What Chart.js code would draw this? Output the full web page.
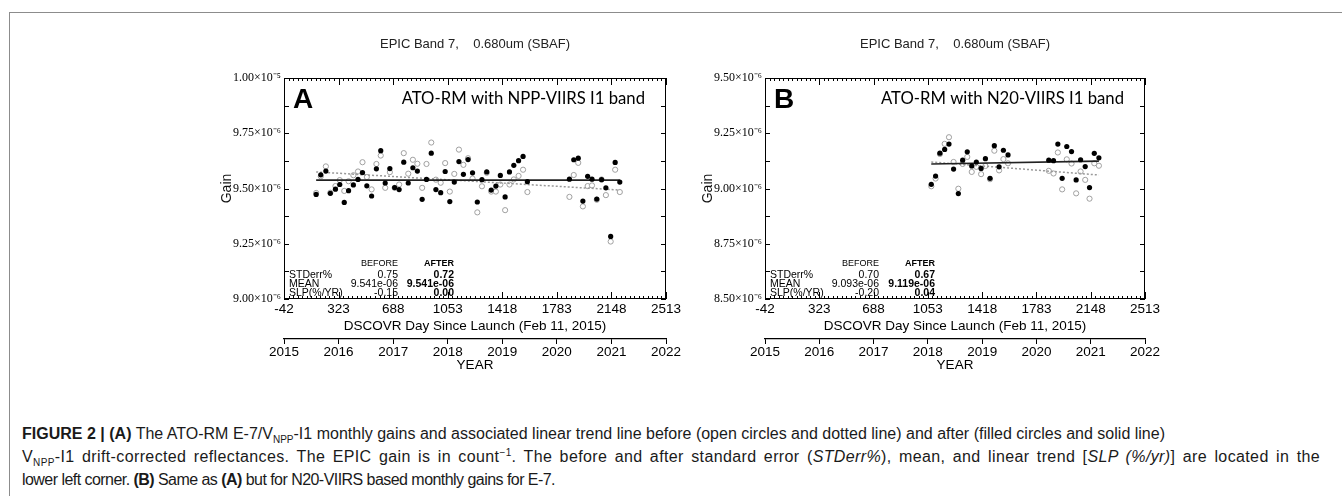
<!DOCTYPE html>
<html>
<head>
<meta charset="utf-8">
<script src="https://cdn.jsdelivr.net/npm/chart.js@4.4.1/dist/chart.umd.min.js"></script>
<style>
  html, body { margin: 0; padding: 0; background: #fff; }
  body { width: 1342px; height: 496px; position: relative; overflow: hidden; }
  #frame { position: absolute; left: 9px; top: 12px; width: 1340px; height: 490px;
           border-top: 1.5px solid #8c8c8c; border-left: 1.5px solid #8c8c8c; }
  canvas { position: absolute; top: 0; }
  #chartA { left: 0; }
  #chartB { left: 671px; }
  #caption { position: absolute; left: 22px; top: 422px; width: 1310px;
             font-family: 'Liberation Sans Narrow', 'Liberation Sans', Arial, sans-serif;
             font-size: 16px; line-height: 23px; color: #1a1a1a; white-space: nowrap; }
  #caption sub, #caption sup { font-size: 10px; line-height: 0; }
  #caption .ln { display: inline-block; }
</style>
</head>
<body>
<div id="frame"></div>
<canvas id="chartA" width="700" height="400"></canvas>
<canvas id="chartB" width="671" height="400"></canvas>
<div id="caption">
<span class="ln" data-w="1143"><b>FIGURE 2 | (A)</b> The ATO-RM E-7/V<sub>NPP</sub>-I1 monthly gains and associated linear trend line before (open circles and dotted line) and after (filled circles and solid line)</span><br>
<span class="ln" data-w="1298">V<sub>NPP</sub>-I1 drift-corrected reflectances. The EPIC gain is in count<sup>−1</sup>. The before and after standard error (<i>STDerr%</i>), mean, and linear trend [<i>SLP (%/yr)</i>] are located in the</span><br>
<span class="ln" data-w="533">lower left corner. <b>(B)</b> Same as <b>(A)</b> but for N20-VIIRS based monthly gains for E-7.</span>
</div>
<script>
// gains are in units of 1e-6 count^-1, x is DSCOVR day since launch
const dayTicks = [-42, 323, 688, 1053, 1418, 1783, 2148, 2513];
const yearTicks = [2015, 2016, 2017, 2018, 2019, 2020, 2021, 2022];

const daysA = [173, 204, 238, 268, 302, 331, 361, 390, 422, 453, 483, 512, 544, 576, 605, 635,
  666, 698, 728, 759, 789, 820, 850, 882, 911, 943, 974, 1006, 1036, 1067, 1097, 1128, 1158,
  1189, 1219, 1251, 1282, 1314, 1344, 1375, 1405, 1437, 1466, 1495, 1527, 1557, 1586,
  1867, 1896, 1926, 1957, 1989, 2018, 2050, 2082, 2111, 2143, 2173, 2204];
const afterA = [9.473, 9.562, 9.579, 9.478, 9.497, 9.518, 9.437, 9.490, 9.516, 9.541, 9.572,
  9.512, 9.466, 9.589, 9.671, 9.525, 9.590, 9.504, 9.495, 9.619, 9.525, 9.594, 9.579, 9.451,
  9.541, 9.660, 9.495, 9.481, 9.577, 9.441, 9.529, 9.622, 9.564, 9.631, 9.571, 9.439, 9.540,
  9.575, 9.493, 9.511, 9.559, 9.462, 9.575, 9.605, 9.626, 9.645, 9.531,
  9.542, 9.630, 9.637, 9.443, 9.555, 9.542, 9.452, 9.540, 9.503, 9.283, 9.618, 9.529];
const beforeA = [9.480, 9.555, 9.600, 9.481, 9.511, 9.538, 9.489, 9.533, 9.560, 9.577, 9.619,
  9.552, 9.496, 9.611, 9.649, 9.503, 9.574, 9.503, 9.518, 9.660, 9.567, 9.630, 9.612, 9.503,
  9.611, 9.708, 9.540, 9.526, 9.615, 9.486, 9.566, 9.676, 9.607, 9.637, 9.545, 9.392, 9.510,
  9.571, 9.486, 9.486, 9.518, 9.402, 9.518, 9.541, 9.557, 9.585, 9.484,
  9.462, 9.561, 9.616, 9.419, 9.511, 9.514, 9.449, 9.541, 9.470, 9.260, 9.585, 9.484];
const trendDaysA = [173, 2204];
const trendAfterA = [9.538, 9.538];
const trendBeforeA = [9.575, 9.493];

const daysB = [1076, 1105, 1134, 1166, 1195, 1226, 1258, 1287, 1318, 1348, 1379, 1411, 1440,
  1471, 1500, 1532, 1561, 1592, 1866, 1898, 1927, 1956, 1987, 2019, 2050, 2080, 2111, 2140,
  2172, 2203];
const afterB = [9.019, 9.056, 9.160, 9.177, 9.201, 9.088, 8.977, 9.128, 9.166, 9.102, 9.120,
  9.091, 9.135, 9.046, 9.194, 9.098, 9.173, 9.152, 9.128, 9.126, 9.201, 9.046, 9.190, 9.167,
  9.039, 9.130, 9.099, 9.004, 9.159, 9.139];
const beforeB = [9.010, 9.045, 9.156, 9.202, 9.232, 9.120, 8.999, 9.111, 9.143, 9.075, 9.098,
  9.065, 9.102, 9.042, 9.171, 9.082, 9.133, 9.114, 9.080, 9.068, 9.163, 8.996, 9.132, 9.113,
  8.978, 9.077, 9.039, 8.954, 9.114, 9.103];
const trendDaysB = [1076, 2203];
const trendAfterB = [9.111, 9.124];
const trendBeforeB = [9.120, 9.061];

const yTicksA = [9.00, 9.25, 9.50, 9.75, 10.00];
const yLabelsA = ['9.00×10⁻⁶', '9.25×10⁻⁶', '9.50×10⁻⁶', '9.75×10⁻⁶', '1.00×10⁻⁵'];
const yTicksB = [8.50, 8.75, 9.00, 9.25, 9.50];
const yLabelsB = ['8.50×10⁻⁶', '8.75×10⁻⁶', '9.00×10⁻⁶', '9.25×10⁻⁶', '9.50×10⁻⁶'];

const statNames = ['STDerr%', 'MEAN', 'SLP(%/YR)'];
const statsBeforeA = ['0.75', '9.541e-06', '-0.15'];
const statsAfterA = ['0.72', '9.541e-06', '0.00'];
const statsBeforeB = ['0.70', '9.093e-06', '-0.20'];
const statsAfterB = ['0.67', '9.119e-06', '0.04'];

const titleText = 'EPIC Band 7,    0.680um (SBAF)';

const SANS = "'Liberation Sans', Arial, sans-serif";
const NARROW = "'Liberation Sans Narrow', 'Liberation Sans', Arial, sans-serif";
const SERIF = "'Liberation Serif', 'Times New Roman', serif";
Chart.defaults.font.family = SANS;
Chart.defaults.color = '#111';

function pts(xs, ys) {
  return xs.map((x, i) => ({ x: x, y: ys[i] }));
}

// inward ticks, frame and the text inside the box
const panelDecor = {
  id: 'panelDecor',
  afterDraw(chart, args, o) {
    const ctx = chart.ctx;
    const { left, right, top, bottom } = chart.chartArea;
    const xs = chart.scales.x, ys = chart.scales.y;
    ctx.save();
    ctx.strokeStyle = '#000';
    ctx.lineWidth = 1;
    ctx.strokeRect(left + 0.5, top + 0.5, right - left - 1, bottom - top - 1);
    ctx.beginPath();
    for (let k = 0; k <= 84; k++) {
      const px = Math.round(xs.getPixelForValue(-42 + k * 365 / 12)) + 0.5;
      const len = (k % 12 === 0) ? 7 : 3;
      ctx.moveTo(px, top); ctx.lineTo(px, top + len);
      ctx.moveTo(px, bottom); ctx.lineTo(px, bottom - len);
    }
    for (let v = ys.min; v <= ys.max + 1e-9; v += 0.125) {
      const py = Math.round(ys.getPixelForValue(v)) + 0.5;
      ctx.moveTo(left, py); ctx.lineTo(left + 5, py);
      ctx.moveTo(right, py); ctx.lineTo(right - 5, py);
    }
    ctx.stroke();

    ctx.fillStyle = '#000';
    ctx.textBaseline = 'alphabetic';
    ctx.font = "bold 28px " + SANS;
    ctx.textAlign = 'left';
    ctx.fillText(o.letter, left + 9, top + 30);

    ctx.font = "18px Lato, 'Open Sans', sans-serif";
    const w = ctx.measureText(o.label).width;
    const size = 18 * 243 / w;
    ctx.font = size.toFixed(1) + "px Lato, 'Open Sans', sans-serif";
    ctx.textAlign = 'right';
    ctx.fillText(o.label, right - 21, top + 26);

    ctx.font = "9px " + NARROW;
    ctx.textAlign = 'right';
    ctx.fillText('BEFORE', left + 114, bottom - 33);
    ctx.font = "bold 9px " + NARROW;
    ctx.fillText('AFTER', left + 170, bottom - 33);
    for (let i = 0; i < statNames.length; i++) {
      const y = bottom - 21.5 + i * 9.2;
      ctx.font = "10.5px " + NARROW;
      ctx.textAlign = 'left';
      ctx.fillText(statNames[i], left + 5, y);
      ctx.textAlign = 'right';
      ctx.fillText(o.before[i], left + 114, y);
      ctx.font = "bold 10.5px " + NARROW;
      ctx.fillText(o.after[i], left + 170, y);
    }
    ctx.restore();
  }
};

function makePanel(id, p) {
  return new Chart(document.getElementById(id), {
    type: 'scatter',
    data: {
      datasets: [
        { label: 'after', data: pts(p.days, p.after), pointRadius: 2.6, pointBackgroundColor: '#000',
          pointBorderWidth: 0, pointHoverRadius: 2.6 },
        { label: 'after trend', type: 'line', data: pts(p.trendDays, p.trendAfter), borderColor: '#222',
          borderWidth: 1.6, pointRadius: 0, fill: false },
        { label: 'before trend', type: 'line', data: pts(p.trendDays, p.trendBefore), borderColor: '#999',
          borderWidth: 1.5, borderDash: [2, 2], pointRadius: 0, fill: false },
        { label: 'before', data: pts(p.days, p.before), pointRadius: 2.6, pointBackgroundColor: '#fff',
          pointBorderColor: '#a0a0a0', pointBorderWidth: 1, pointHoverRadius: 2.6 }
      ]
    },
    options: {
      responsive: false,
      animation: false,
      devicePixelRatio: 1,
      layout: { padding: { left: p.padLeft, right: p.padRight, top: 0, bottom: 26 } },
      plugins: {
        legend: { display: false },
        tooltip: { enabled: false },
        title: {
          display: true, text: titleText, fullSize: false,
          font: { size: 13, weight: 'normal', family: SANS }, color: '#222',
          padding: { top: 36.2, bottom: 26.2 }
        },
        panelDecor: { letter: p.letter, label: p.label, before: p.statsBefore, after: p.statsAfter }
      },
      scales: {
        x: {
          type: 'linear', position: 'bottom', min: -42, max: 2513, weight: 0,
          grid: { display: false, drawTicks: false },
          border: { display: false },
          afterBuildTicks: s => { s.ticks = dayTicks.map(v => ({ value: v })); },
          afterFit: s => { s.height = 40; },
          ticks: { padding: 2, maxRotation: 0, autoSkip: false, callback: v => String(v),
                   font: { size: 13.5, family: NARROW }, color: '#000' },
          title: { display: true, text: 'DSCOVR Day Since Launch (Feb 11, 2015)', color: '#000',
                   font: { size: 13.5, family: NARROW }, padding: { top: 0, bottom: 4.9 } }
        },
        year: {
          type: 'linear', position: 'bottom', min: 2015, max: 2022, weight: 1,
          grid: { display: true, drawOnChartArea: false, drawTicks: true, tickLength: 5, color: '#000' },
          border: { display: true, color: '#000', width: 1.2 },
          afterBuildTicks: s => { s.ticks = yearTicks.map(v => ({ value: v })); },
          afterFit: s => { s.height = 35; },
          ticks: { padding: 0, maxRotation: 0, autoSkip: false, callback: v => String(v),
                   font: { size: 13.5, family: NARROW }, color: '#000' },
          title: { display: true, text: 'YEAR', color: '#000',
                   font: { size: 13.5, family: NARROW }, padding: { top: 0, bottom: 0.9 } }
        },
        y: {
          type: 'linear', position: 'left', min: p.yTicks[0], max: p.yTicks[p.yTicks.length - 1],
          grid: { display: false, drawTicks: false },
          border: { display: false },
          afterBuildTicks: s => { s.ticks = p.yTicks.map(v => ({ value: v })); },
          afterFit: s => { s.width = p.axisW; },
          ticks: { padding: 3, autoSkip: false,
                   callback: (v) => p.yLabels[p.yTicks.indexOf(v)],
                   font: { size: 12, family: SERIF }, color: '#000' },
          title: { display: true, text: 'Gain', color: '#111', font: { size: 14, family: SANS },
                   padding: { top: 0, bottom: 0 } }
        }
      }
    },
    plugins: [panelDecor]
  });
}

makePanel('chartA', {
  days: daysA, after: afterA, before: beforeA,
  trendDays: trendDaysA, trendAfter: trendAfterA, trendBefore: trendBeforeA,
  yTicks: yTicksA, yLabels: yLabelsA, letter: 'A', label: 'ATO-RM with NPP-VIIRS I1 band',
  statsBefore: statsBeforeA, statsAfter: statsAfterA, padLeft: 219, axisW: 65, padRight: 34
});
makePanel('chartB', {
  days: daysB, after: afterB, before: beforeB,
  trendDays: trendDaysB, trendAfter: trendAfterB, trendBefore: trendBeforeB,
  yTicks: yTicksB, yLabels: yLabelsB, letter: 'B', label: 'ATO-RM with N20-VIIRS I1 band',
  statsBefore: statsBeforeB, statsAfter: statsAfterB, padLeft: 29, axisW: 65, padRight: 197
});

// stretch each caption line to the width it has in the figure:
// a wider line shares the gap between word and letter spacing, a narrower one only tightens letters
document.querySelectorAll('#caption .ln').forEach(el => {
  const target = +el.dataset.w;
  const w = el.getBoundingClientRect().width;
  const text = el.textContent;
  const n = text.length;
  const spaces = (text.match(/ /g) || []).length || 1;
  const gap = target - w;
  if (gap > 0) {
    el.style.wordSpacing = (gap / 2 / spaces).toFixed(3) + 'px';
    el.style.letterSpacing = (gap / 2 / n).toFixed(3) + 'px';
  } else {
    el.style.letterSpacing = (gap / n).toFixed(3) + 'px';
  }
});
</script>
</body>
</html>
